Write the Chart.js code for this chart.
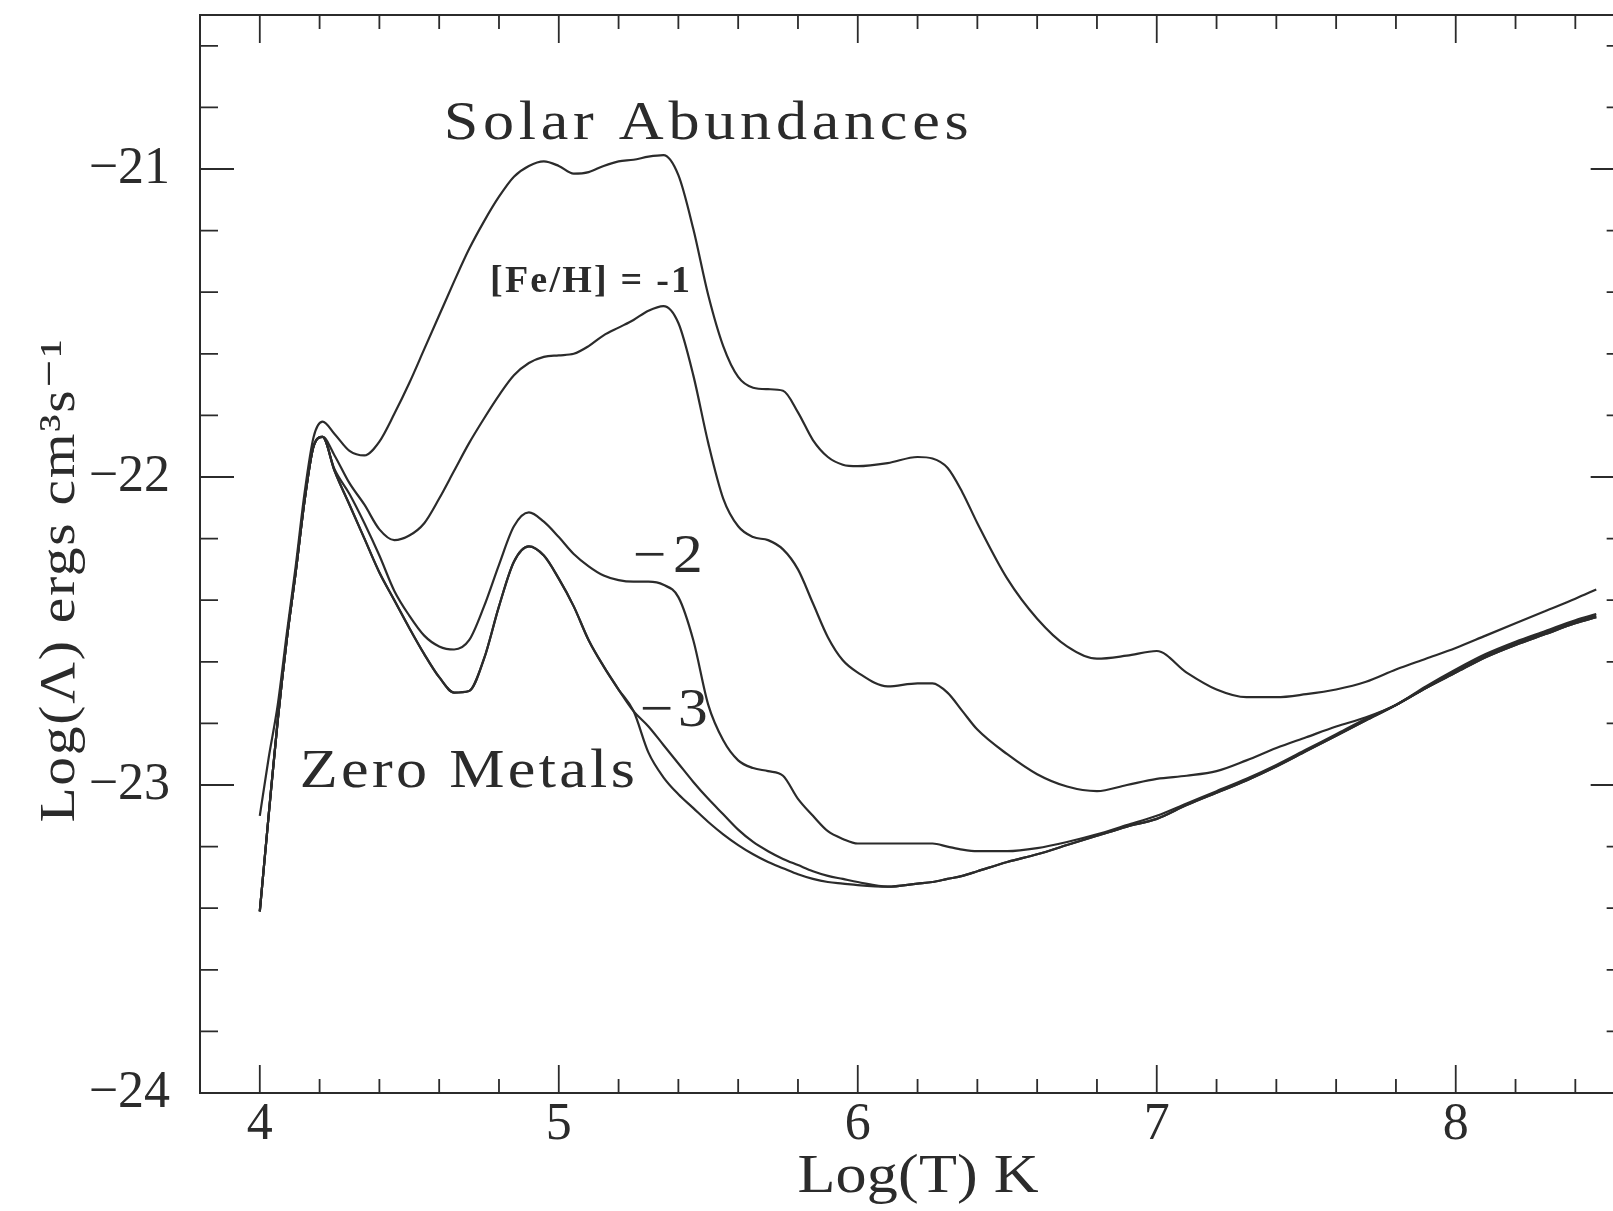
<!DOCTYPE html>
<html>
<head>
<meta charset="utf-8">
<script src="https://cdn.jsdelivr.net/npm/chart.js@4.4.1/dist/chart.umd.min.js"></script>
<style>
  html, body { margin: 0; padding: 0; background: #ffffff; overflow: hidden; }
  canvas { display: block; }
</style>
</head>
<body>
<canvas id="c" width="1613" height="1211"></canvas>
<script>
// ---------------- DATA ----------------
const logT = [4.00, 4.03, 4.06, 4.09, 4.12, 4.15, 4.18, 4.21, 4.25, 4.30,
  4.35, 4.40, 4.45, 4.50, 4.55, 4.60, 4.65, 4.70, 4.75, 4.80,
  4.85, 4.90, 4.95, 5.00, 5.05, 5.10, 5.15, 5.20, 5.25, 5.30,
  5.35, 5.40, 5.45, 5.50, 5.55, 5.60, 5.65, 5.70, 5.75, 5.80,
  5.85, 5.90, 5.95, 6.00, 6.10, 6.20, 6.25, 6.30, 6.35, 6.40,
  6.50, 6.60, 6.70, 6.80, 6.90, 7.00, 7.10, 7.20, 7.30, 7.40,
  7.50, 7.60, 7.70, 7.80, 7.90, 8.00, 8.10, 8.20, 8.30, 8.40, 8.47];

const solar = [-23.10, -22.91, -22.74, -22.51, -22.29, -22.05, -21.87, -21.82, -21.86, -21.915,
  -21.93, -21.885, -21.795, -21.695, -21.585, -21.475, -21.365, -21.26, -21.17, -21.09,
  -21.025, -20.99, -20.975, -20.99, -21.015, -21.01, -20.99, -20.975, -20.97, -20.96,
  -20.955, -21.02, -21.195, -21.41, -21.575, -21.675, -21.71, -21.715, -21.72, -21.79,
  -21.88, -21.935, -21.96, -21.965, -21.955, -21.935, -21.94, -21.97, -22.05, -22.15,
  -22.33, -22.46, -22.55, -22.59, -22.58, -22.565, -22.635, -22.69, -22.715, -22.715,
  -22.705, -22.69, -22.665, -22.625, -22.59, -22.555, -22.515, -22.475, -22.435, -22.395, -22.365];

const feh1 = [-23.41, -23.095, -22.79, -22.53, -22.31, -22.075, -21.90, -21.87, -21.93, -22.02,
  -22.09, -22.17, -22.205, -22.19, -22.15, -22.07, -21.98, -21.89, -21.81, -21.735,
  -21.67, -21.63, -21.61, -21.605, -21.60, -21.575, -21.54, -21.515, -21.49, -21.46,
  -21.445, -21.50, -21.67, -21.89, -22.07, -22.16, -22.195, -22.205, -22.235, -22.30,
  -22.41, -22.52, -22.595, -22.635, -22.68, -22.67, -22.67, -22.70, -22.76, -22.82,
  -22.90, -22.965, -23.005, -23.02, -23.00, -22.98, -22.97, -22.955, -22.92, -22.88,
  -22.845, -22.81, -22.78, -22.74, -22.68, -22.625, -22.575, -22.535, -22.50, -22.465, -22.445];

const feh2 = [-23.41, -23.095, -22.79, -22.53, -22.31, -22.075, -21.90, -21.87, -21.975, -22.055,
  -22.15, -22.255, -22.37, -22.45, -22.515, -22.55, -22.56, -22.53, -22.42, -22.285,
  -22.16, -22.115, -22.145, -22.195, -22.25, -22.29, -22.32, -22.335, -22.34, -22.34,
  -22.35, -22.39, -22.53, -22.74, -22.855, -22.92, -22.945, -22.955, -22.97, -23.045,
  -23.10, -23.15, -23.175, -23.19, -23.19, -23.19, -23.19, -23.20, -23.21, -23.215,
  -23.215, -23.205, -23.185, -23.16, -23.13, -23.10, -23.06, -23.02, -22.98, -22.935,
  -22.885, -22.835, -22.785, -22.74, -22.685, -22.63, -22.58, -22.54, -22.505, -22.47, -22.45];

const feh3 = [-23.41, -23.095, -22.79, -22.53, -22.31, -22.075, -21.90, -21.87, -21.98, -22.09,
  -22.20, -22.31, -22.40, -22.49, -22.575, -22.65, -22.70, -22.695, -22.59, -22.42,
  -22.275, -22.225, -22.255, -22.33, -22.42, -22.53, -22.615, -22.69, -22.76, -22.81,
  -22.87, -22.93, -22.99, -23.045, -23.095, -23.145, -23.185, -23.215, -23.24, -23.26,
  -23.28, -23.295, -23.305, -23.315, -23.33, -23.32, -23.315, -23.305, -23.295, -23.28,
  -23.25, -23.225, -23.195, -23.165, -23.135, -23.11, -23.065, -23.025, -22.985, -22.94,
  -22.89, -22.84, -22.79, -22.74, -22.685, -22.635, -22.585, -22.545, -22.51, -22.475, -22.455];

const zeroMetals = [-23.41, -23.095, -22.79, -22.53, -22.31, -22.075, -21.90, -21.87, -21.98, -22.09,
  -22.20, -22.31, -22.40, -22.49, -22.575, -22.65, -22.70, -22.695, -22.59, -22.42,
  -22.275, -22.225, -22.255, -22.33, -22.42, -22.53, -22.615, -22.69, -22.76, -22.895,
  -22.975, -23.03, -23.075, -23.12, -23.16, -23.195, -23.225, -23.25, -23.27, -23.29,
  -23.305, -23.315, -23.32, -23.325, -23.33, -23.32, -23.315, -23.305, -23.295, -23.28,
  -23.25, -23.225, -23.195, -23.165, -23.135, -23.11, -23.065, -23.025, -22.985, -22.94,
  -22.89, -22.84, -22.79, -22.74, -22.685, -22.635, -22.585, -22.545, -22.51, -22.475, -22.455];

const xTickValues = [4, 5, 6, 7, 8];
const yTickValues = [-24, -23, -22, -21];

const xTitle = 'Log(T) K';
const yTitle = 'Log(\u039B) ergs cm\u00B3s\u207B\u00B9';

// curve labels and their anchor points (left edge, baseline) in data coordinates
const labelTexts = ['Solar Abundances', '[Fe/H] = -1', '\u22122', '\u22123', 'Zero Metals'];
const labelT = [4.615, 4.77, 5.247, 5.271, 4.134];
const labelL = [-20.9025, -21.40, -22.31, -22.81, -23.005];

// ---------------- STYLE ----------------
const SERIF = "'Liberation Serif', 'DejaVu Serif', serif";
const INK = '#2b2b2b';
const FRAME_RIGHT_T = 8.565;   // the plot frame continues just past the picture edge
const labelStyles = [
  { font: '54px ' + SERIF, width: 525, sx: 1.15 },
  { font: 'bold 38px ' + SERIF, width: 200, sx: 1.0 },
  { font: '54px ' + SERIF, width: 70, sx: 1.1 },
  { font: '54px ' + SERIF, width: 68, sx: 1.1 },
  { font: '54px ' + SERIF, width: 335, sx: 1.15 }
];

function toPoints(ys) { return logT.map((t, i) => ({ x: t, y: ys[i] })); }

const seriesList = [solar, feh1, feh2, feh3, zeroMetals];
const seriesNames = ['Solar', '[Fe/H] = -1', '[Fe/H] = -2', '[Fe/H] = -3', 'Zero Metals'];

const datasets = seriesList.map((s, i) => ({
  label: seriesNames[i],
  data: toPoints(s),
  borderColor: INK,
  borderWidth: 2.2,
  pointRadius: 0,
  fill: false,
  cubicInterpolationMode: 'monotone'
}));

// draw text widened (sx) and spread to a target width, like the typewriter lettering
function spreadText(ctx, txt, font, width, align, sx) {
  ctx.font = font;
  const hasLS = ('letterSpacing' in ctx);
  if (hasLS) ctx.letterSpacing = '0px';
  const natural = ctx.measureText(txt).width;
  const n = Array.from(txt).length;
  ctx.save();
  if (hasLS && n > 1) {
    ctx.scale(sx, 1);
    const ls = (width / sx - natural) / (n - 1);
    ctx.letterSpacing = ls.toFixed(2) + 'px';
    const x0 = align === 'center' ? -(width / sx) / 2 : 0;
    ctx.textAlign = 'left';
    ctx.fillText(txt, x0, 0);
    ctx.letterSpacing = '0px';
  } else {
    ctx.scale(width / natural, 1);
    ctx.textAlign = align === 'center' ? 'center' : 'left';
    ctx.fillText(txt, 0, 0);
  }
  ctx.restore();
}

// frame (left, top, bottom; the right side lies past the picture edge) + inward ticks
const framePlugin = {
  id: 'frame',
  afterDraw(chart) {
    const { ctx, chartArea: a, scales: { x, y } } = chart;
    const right = x.getPixelForValue(FRAME_RIGHT_T);
    ctx.save();
    ctx.strokeStyle = INK;
    ctx.lineWidth = 2;
    ctx.beginPath();
    ctx.moveTo(right, a.top); ctx.lineTo(a.left, a.top);
    ctx.lineTo(a.left, a.bottom); ctx.lineTo(right, a.bottom);
    ctx.stroke();
    ctx.lineWidth = 1.8;
    ctx.beginPath();
    for (let k = Math.ceil(x.min * 5 - 1e-6); k <= Math.floor(FRAME_RIGHT_T * 5 + 1e-6); k++) {
      const v = k / 5;
      const major = Math.abs(v - Math.round(v)) < 1e-6;
      const len = major ? 28 : 14;
      const px = x.getPixelForValue(v);
      ctx.moveTo(px, a.bottom); ctx.lineTo(px, a.bottom - len);
      ctx.moveTo(px, a.top); ctx.lineTo(px, a.top + len);
    }
    for (let k = Math.ceil(y.min * 5 - 1e-6); k <= Math.floor(y.max * 5 + 1e-6); k++) {
      const v = k / 5;
      const major = Math.abs(v - Math.round(v)) < 1e-6;
      const len = major ? 34 : 18;
      const py = y.getPixelForValue(v);
      ctx.moveTo(a.left, py); ctx.lineTo(a.left + len, py);
      ctx.moveTo(right, py); ctx.lineTo(right - len, py);
    }
    ctx.stroke();
    ctx.restore();
  }
};

const textPlugin = {
  id: 'texts',
  afterDatasetsDraw(chart) {
    const { ctx, scales: { x, y } } = chart;
    ctx.save();
    ctx.fillStyle = INK;
    ctx.textBaseline = 'alphabetic';
    labelTexts.forEach((txt, i) => {
      const st = labelStyles[i];
      ctx.save();
      ctx.translate(x.getPixelForValue(labelT[i]), y.getPixelForValue(labelL[i]));
      spreadText(ctx, txt, st.font, st.width, 'left', st.sx);
      ctx.restore();
    });
    // x-axis title
    ctx.save();
    ctx.translate(918, 1192);
    spreadText(ctx, xTitle, '54px ' + SERIF, 241, 'center', 1.15);
    ctx.restore();
    // y-axis title (rotated)
    ctx.save();
    ctx.translate(74, 581);
    ctx.rotate(-Math.PI / 2);
    spreadText(ctx, yTitle, '50px ' + SERIF, 483, 'center', 1.15);
    ctx.restore();
    ctx.restore();
  }
};

const fmt = v => (v < 0 ? '\u2212' + Math.abs(v) : String(v));

new Chart(document.getElementById('c').getContext('2d'), {
  type: 'line',
  data: { datasets },
  options: {
    responsive: false,
    animation: false,
    events: [],
    layout: { padding: { top: 15, right: 0, left: 0, bottom: 0 } },
    plugins: { legend: { display: false }, tooltip: { enabled: false } },
    scales: {
      x: {
        type: 'linear',
        min: 3.8,
        max: 8.526,
        grid: { display: false, drawTicks: false },
        border: { display: false },
        afterBuildTicks: s => { s.ticks = xTickValues.map(v => ({ value: v })); },
        afterFit: s => {
          s.height = 118;
          s.paddingLeft = 0; s.paddingRight = 0; s.paddingTop = 0; s.paddingBottom = 0;
        },
        ticks: {
          color: INK,
          padding: 6,
          maxRotation: 0,
          autoSkip: false,
          font: { family: SERIF, size: 52, lineHeight: 1 },
          callback: v => fmt(v)
        },
        title: { display: false }
      },
      y: {
        type: 'linear',
        min: -24,
        max: -20.5,
        grid: { display: false, drawTicks: false },
        border: { display: false },
        afterBuildTicks: s => { s.ticks = yTickValues.map(v => ({ value: v })); },
        afterFit: s => {
          s.width = 200;
          s.paddingLeft = 0; s.paddingRight = 0; s.paddingTop = 0; s.paddingBottom = 0;
        },
        ticks: {
          color: INK,
          padding: 30,
          autoSkip: false,
          font: { family: SERIF, size: 52, lineHeight: 1 },
          callback: v => fmt(v)
        },
        title: { display: false }
      }
    }
  },
  plugins: [framePlugin, textPlugin]
});
</script>
</body>
</html>
